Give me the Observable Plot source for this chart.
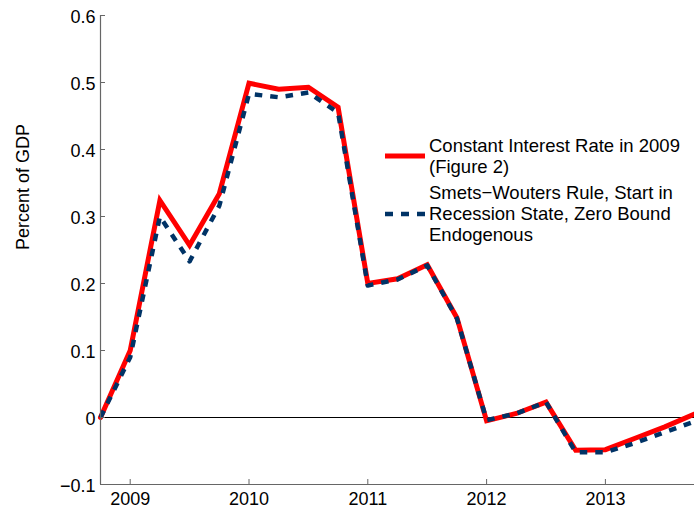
<!DOCTYPE html>
<html>
<head>
<meta charset="utf-8">
<script src="https://cdn.jsdelivr.net/npm/d3@7"></script>
<script src="https://cdn.jsdelivr.net/npm/@observablehq/plot@0.6"></script>
<style>
  html, body { margin: 0; padding: 0; background: #fff; }
  #chart { position: relative; width: 694px; height: 510px; font-family: "Liberation Sans", Arial, sans-serif; }
  #legend { position: absolute; left: 385px; top: 135px; font-size: 18.5px; line-height: 21px; color: #000; white-space: nowrap; }
  .entry { display: flex; align-items: center; }
  .entry + .entry { margin-top: 5px; }
  .entry svg { flex: none; margin-right: 4px; }
</style>
</head>
<body>
<div id="chart"><div id="legend"></div></div>
<script>
// Quarterly horizon, as decimal years
const quarters = [2008.75, 2009.0, 2009.25, 2009.5, 2009.75, 2010.0, 2010.25, 2010.5, 2010.75,
  2011.0, 2011.25, 2011.5, 2011.75, 2012.0, 2012.25, 2012.5, 2012.75, 2013.0, 2013.25, 2013.5, 2013.75];

// Percent of GDP
const constantRate = [0, 0.100, 0.324, 0.257, 0.334, 0.499, 0.490, 0.493, 0.463,
  0.200, 0.207, 0.228, 0.149, -0.005, 0.006, 0.023, -0.049, -0.048, -0.031, -0.014, 0.005];
const smetsWouters = [0, 0.090, 0.300, 0.233, 0.316, 0.483, 0.478, 0.485, 0.455,
  0.197, 0.206, 0.227, 0.148, -0.004, 0.006, 0.023, -0.052, -0.052, -0.038, -0.022, -0.006];

const seriesNames = ["Constant Interest Rate in 2009 (Figure 2)",
  "Smets\u2212Wouters Rule, Start in Recession State, Zero Bound Endogenous"];
const legendLines = [["Constant Interest Rate in 2009", "(Figure 2)"],
  ["Smets\u2212Wouters Rule, Start in", "Recession State, Zero Bound", "Endogenous"]];

const xTicks = [2009, 2010, 2011, 2012, 2013];
const yTicks = [-0.1, 0, 0.1, 0.2, 0.3, 0.4, 0.5, 0.6];
const yLabel = "Percent of GDP";

const red = "#ff0000";
const navy = "#003366";
const axisGray = "#666666";

const rows = (vals, name) => quarters.map((q, i) => ({q, v: vals[i], name}));
const redRows = rows(constantRate, seriesNames[0]);
const blueRows = rows(smetsWouters, seriesNames[1]);

const yFmt = d => d === 0 ? "0" : d3.format(".1f")(d);

const plot = Plot.plot({
  width: 694,
  height: 510,
  marginLeft: 100,
  marginRight: 0,
  marginTop: 15,
  marginBottom: 26,
  style: {fontFamily: "'Liberation Sans', Arial, sans-serif", fontSize: "18px", color: "#000", background: "#fff"},
  x: {domain: [quarters[0], quarters[quarters.length - 1]]},
  y: {domain: [-0.1, 0.6]},
  marks: [
    Plot.ruleY([0], {stroke: "#000", strokeWidth: 1.1}),
    Plot.line(redRows, {x: "q", y: "v", stroke: red, strokeWidth: 5, strokeLinejoin: "miter", strokeMiterlimit: 3}),
    Plot.line(blueRows, {x: "q", y: "v", stroke: navy, strokeWidth: 4.5, strokeDasharray: "7.5,8", strokeLinecap: "butt"}),
    Plot.ruleX([quarters[0]], {stroke: axisGray, strokeWidth: 1.2}),
    Plot.ruleY([-0.1], {stroke: axisGray, strokeWidth: 1.2}),
    // inward ticks
    Plot.axisY({ticks: yTicks, tickSize: -5, tickFormat: () => "", stroke: axisGray, label: null}),
    Plot.axisX({ticks: xTicks, tickSize: -5, tickFormat: () => "", stroke: axisGray, label: null}),
    // tick labels
    Plot.axisY({ticks: yTicks, tickSize: 0, tickPadding: 5, dy: 1.5, tickFormat: yFmt, fill: "#000", label: null}),
    Plot.axisX({ticks: xTicks, tickSize: 0, tickPadding: 8, tickFormat: d => String(d), fill: "#000", label: null}),
    Plot.text([yLabel], {frameAnchor: "left", rotate: -90, dx: -77.5, fill: "#000", fontSize: 18})
  ]
});

const chart = document.getElementById("chart");
chart.insertBefore(plot, chart.firstChild);

// Legend
const legend = document.getElementById("legend");
const swatches = [
  `<svg width="40" height="8"><line x1="0" y1="4" x2="40" y2="4" stroke="${red}" stroke-width="5"/></svg>`,
  `<svg width="40" height="8"><line x1="0" y1="4" x2="40" y2="4" stroke="${navy}" stroke-width="4.5" stroke-dasharray="8,8"/></svg>`
];
legendLines.forEach((lines, i) => {
  const e = document.createElement("div");
  e.className = "entry";
  e.innerHTML = swatches[i] + `<div>${lines.join("<br>")}</div>`;
  legend.appendChild(e);
});
</script>
</body>
</html>
